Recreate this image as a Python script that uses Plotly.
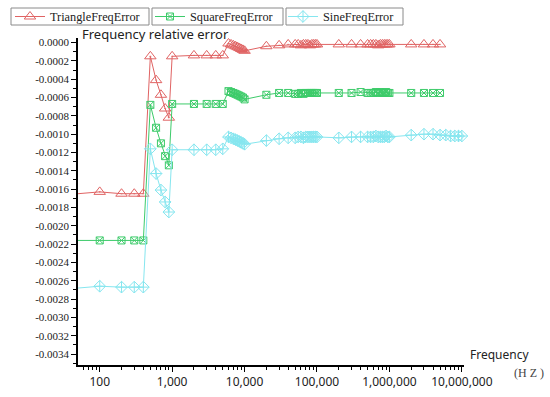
import plotly.graph_objects as go

# ---------------- data ----------------
freq_tri_sq = [50, 100, 200, 300, 400, 500, 600, 700, 800, 900,
               1000, 2000, 3000, 4000, 5000,
               6000, 6500, 7000, 7500, 8000, 8500, 9000, 9500, 10000,
               20000, 30000, 40000,
               50000, 55000, 60000, 65000, 70000, 75000, 80000, 85000, 90000, 95000, 100000,
               200000, 300000, 400000,
               500000, 550000, 600000, 650000, 700000, 750000, 800000, 850000, 900000, 950000, 1000000,
               2000000, 3000000, 4000000, 5000000]

triangle_err = [-0.00165, -0.00163, -0.00165, -0.00165, -0.00165,
                -0.00015, -0.00041, -0.00057, -0.00072, -0.00082,
                -0.00015, -0.00014, -0.00014, -0.00014, -0.00014,
                -0.00001, -0.00002, -0.00003, -0.00004, -0.00005, -0.00006, -0.00007, -0.00008, -0.00009,
                -0.00004, -0.00003, -0.00002,
                -0.00002, -0.00002, -0.00003, -0.00002, -0.00002, -0.00002, -0.00003, -0.00002, -0.00002, -0.00002, -0.00002,
                -0.00002, -0.00002, -0.00002,
                -0.00002, -0.00002, -0.00002, -0.00002, -0.00003, -0.00002, -0.00002, -0.00002, -0.00002, -0.00002, -0.00002,
                -0.00002, -0.00002, -0.00002, -0.00002]

square_err = [-0.00216, -0.00216, -0.00216, -0.00216, -0.00216,
              -0.00068, -0.00093, -0.00110, -0.00124, -0.00134,
              -0.00067, -0.00067, -0.00067, -0.00067, -0.00067,
              -0.00053, -0.00054, -0.00055, -0.00056, -0.00057, -0.00058, -0.00059, -0.00060, -0.00062,
              -0.00057, -0.00055, -0.00055,
              -0.00056, -0.00056, -0.00055, -0.00056, -0.00055, -0.00055, -0.00055, -0.00055, -0.00055, -0.00055, -0.00055,
              -0.00055, -0.00055, -0.00054,
              -0.00055, -0.00055, -0.00055, -0.00054, -0.00055, -0.00054, -0.00055, -0.00055, -0.00054, -0.00055, -0.00055,
              -0.00055, -0.00055, -0.00055, -0.00055]

freq_sine = [50, 100, 200, 300, 400, 500, 600, 700, 800, 900,
             1000, 2000, 3000, 4000, 5000,
             6000, 6500, 7000, 7500, 8000, 8500, 9000, 9500, 10000,
             20000, 30000, 40000,
             50000, 55000, 60000, 65000, 70000, 75000, 80000, 85000, 90000, 95000, 100000,
             200000, 300000, 400000,
             500000, 550000, 600000, 650000, 700000, 750000, 800000, 850000, 900000, 950000, 1000000,
             2000000, 3000000, 4000000, 5000000, 6000000, 7000000, 8000000, 9000000, 10000000]

sine_err = [-0.00268, -0.00266, -0.00267, -0.00267, -0.00267,
            -0.00116, -0.00143, -0.00161, -0.00174, -0.00185,
            -0.00117, -0.00117, -0.00117, -0.00117, -0.00116,
            -0.00103, -0.00104, -0.00105, -0.00106, -0.00107, -0.00108, -0.00109, -0.00110, -0.00111,
            -0.00107, -0.00105, -0.00104,
            -0.00104, -0.00103, -0.00103, -0.00104, -0.00103, -0.00103, -0.00103, -0.00103, -0.00103, -0.00103, -0.00103,
            -0.00104, -0.00103, -0.00103,
            -0.00103, -0.00103, -0.00103, -0.00102, -0.00103, -0.00103, -0.00103, -0.00103, -0.00102, -0.00103, -0.00103,
            -0.00101, -0.00100, -0.00100, -0.00101, -0.00101, -0.00102, -0.00102, -0.00102, -0.00102]

y_tickvals = [0.0, -0.0002, -0.0004, -0.0006, -0.0008, -0.0010, -0.0012, -0.0014, -0.0016,
              -0.0018, -0.0020, -0.0022, -0.0024, -0.0026, -0.0028, -0.0030, -0.0032, -0.0034]
y_ticktext = ["0.0000", "-0.0002", "-0.0004", "-0.0006", "-0.0008", "-0.0010", "-0.0012", "-0.0014",
              "-0.0016", "-0.0018", "-0.0020", "-0.0022", "-0.0024", "-0.0026", "-0.0028", "-0.0030",
              "-0.0032", "-0.0034"]
x_tickvals = [100, 1000, 10000, 100000, 1000000, 10000000]
x_ticktext = ["100", "1,000", "10,000", "100,000", "1,000,000", "10,000,000"]

RED = "#E06363"
GREEN = "#3DCB6A"
CYAN = "#86E6EF"

fig = go.Figure()
fig.add_trace(go.Scatter(x=freq_tri_sq, y=triangle_err, name="TriangleFreqError",
                         mode="lines+markers", legend="legend",
                         line=dict(color=RED, width=1),
                         marker=dict(symbol="triangle-up-open-dot", size=10, color=RED,
                                     line=dict(width=1, color=RED)),
                         cliponaxis=False))
fig.add_trace(go.Scatter(x=freq_tri_sq, y=square_err, name="SquareFreqError",
                         mode="lines+markers", legend="legend2",
                         line=dict(color=GREEN, width=1),
                         marker=dict(symbol="square-x-open", size=7, color=GREEN,
                                     line=dict(width=1, color=GREEN)),
                         cliponaxis=False))
fig.add_trace(go.Scatter(x=freq_sine, y=sine_err, name="SineFreqError",
                         mode="lines+markers", legend="legend3",
                         line=dict(color=CYAN, width=1),
                         marker=dict(symbol="diamond-cross-open", size=9, color=CYAN,
                                     line=dict(width=1, color=CYAN)),
                         cliponaxis=False))

L, R, T, B = 78, 86, 38, 32
W, H = 550, 397
pw, ph = W - L - R, H - T - B


def px2x(px):
    return (px - L) / pw


def py2y(py):
    return (H - B - py) / ph


leg_common = dict(borderwidth=0, bgcolor="rgba(0,0,0,0)",
                  font=dict(family="Liberation Serif", size=12.3, color="#222"),
                  xanchor="left", yanchor="middle", orientation="h",
                  itemwidth=30, tracegroupgap=0)

box_edges = [(11, 149), (152, 283), (286, 403)]
shapes = [dict(type="rect", xref="paper", yref="paper",
               x0=px2x(a), x1=px2x(b), y0=py2y(25), y1=py2y(8),
               line=dict(color="#8a8a8a", width=1), fillcolor="rgba(0,0,0,0)", layer="below")
          for a, b in box_edges]

fig.update_layout(
    width=W, height=H,
    margin=dict(l=L, r=R, t=T, b=B, autoexpand=False),
    paper_bgcolor="white", plot_bgcolor="white",
    showlegend=True,
    shapes=shapes,
    legend=dict(x=px2x(10), y=py2y(16.5), **leg_common),
    legend2=dict(x=px2x(150), y=py2y(16.5), **leg_common),
    legend3=dict(x=px2x(283), y=py2y(16.5), **leg_common),
    xaxis=dict(type="log", range=[1.70, 7.03], showgrid=False, zeroline=False, automargin=False,
               showline=True, linecolor="black", linewidth=1.5,
               ticks="outside", ticklen=5, tickwidth=1.2, tickcolor="black",
               tickvals=x_tickvals, ticktext=x_ticktext,
               tickfont=dict(family="Noto Sans", size=12, color="#222"),
               minor=dict(ticks="outside", ticklen=3, tickwidth=1, tickcolor="black", dtick="D1")),
    yaxis=dict(range=[-0.00352, 0.00005], showgrid=False, zeroline=False, automargin=False,
               showline=True, linecolor="black", linewidth=1.5,
               ticks="outside", ticklen=5, tickwidth=1.2, tickcolor="black",
               tickvals=y_tickvals, ticktext=y_ticktext,
               tickfont=dict(family="Liberation Serif", size=11, color="#222"),
               minor=dict(ticks="outside", ticklen=3, tickwidth=1, tickcolor="black", dtick=0.0001)),
    annotations=[
        dict(text="Frequency relative error", xref="paper", yref="paper",
             x=px2x(80), y=py2y(34), xanchor="left", yanchor="middle", showarrow=False,
             font=dict(family="Noto Sans", size=13, color="#222")),
        dict(text="Frequency", xref="paper", yref="paper",
             x=px2x(468), y=py2y(354), xanchor="left", yanchor="middle", showarrow=False,
             font=dict(family="Noto Sans", size=12, color="#222")),
        dict(text="(H Z )", xref="paper", yref="paper",
             x=px2x(512), y=py2y(373), xanchor="left", yanchor="middle", showarrow=False,
             font=dict(family="Liberation Serif", size=12, color="#444")),
    ],
)

fig.write_html("out.html", config={"displayModeBar": False},
               post_script="document.body.style.margin='0px';")
